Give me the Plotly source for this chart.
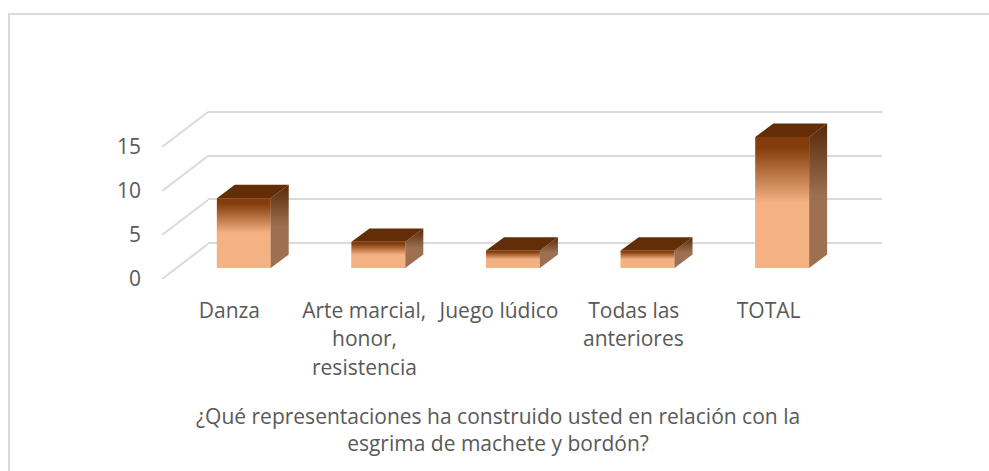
import plotly.graph_objects as go

W, H = 989, 471

# ---- data ----
CATEGORIES = ["Danza", "Arte marcial,", "Juego lúdico", "Todas las", "TOTAL"]
EXTRA_LINE_2 = [None, "honor,", None, "anteriores", None]
EXTRA_LINE_3 = [None, "resistencia", None, None, None]
VALUES = [8, 3, 2, 2, 15]
Y_TICKS = [0, 5, 10, 15]
AXIS_TITLE = "¿Qué representaciones ha construido usted en relación con la<br>esgrima de machete y bordón?"

# ---- style ----
FONT = "Open Sans"
FS = 21
TXT = "#595959"
GRID = "#DADADA"
FRONT_LIGHT, FRONT_DARK = "#F4B183", "#843C0C"
SIDE_LIGHT, SIDE_DARK = "#9C7051", "#572807"
TOP = "#622D07"

def dom_x(a, b):
    return [a / W, b / W]

def dom_y(top, bottom):
    return [1 - bottom / H, 1 - top / H]

idx = list(range(len(VALUES)))
BAR_W = 0.4
DEPTH_X = 18 / 134.6      # category units
DEPTH_Y = 13.4 / 8.73     # value units
FLOOR_X = 46 / 134.8
FLOOR_Y = 35 / 8.8
YTOP = 20                 # axes run past the last tick so nothing is clipped
PX_FRONT, PX_WALL, PX_BAR = 8.8, 8.733, 8.733

fig = go.Figure()

# left-hand floor/wall diagonals on the front axis
for v in Y_TICKS:
    fig.add_trace(go.Scatter(
        x=[-0.5, -0.5 + FLOOR_X], y=[v, v + FLOOR_Y], xaxis="x", yaxis="y",
        mode="lines", line=dict(color=GRID, width=2), cliponaxis=False,
        hoverinfo="skip", showlegend=False))

# wall carrier for the gridlines
fig.add_trace(go.Scatter(x=idx, y=VALUES, xaxis="x2", yaxis="y2", mode="none",
                         hoverinfo="skip", showlegend=False))

# front faces: real bars
fig.add_trace(go.Bar(x=idx, y=VALUES, xaxis="x3", yaxis="y3", width=BAR_W,
                     marker=dict(color=FRONT_LIGHT, line=dict(width=0)),
                     showlegend=False, name="", hovertemplate="%{y}"))

def poly(xs, ys, **kw):
    fig.add_trace(go.Scatter(x=xs, y=ys, xaxis="x3", yaxis="y3", mode="lines",
                             line=dict(width=0), fill="toself", cliponaxis=False,
                             hoverinfo="skip", showlegend=False, **kw))

for i, v in zip(idx, VALUES):
    l, r = i - BAR_W / 2, i + BAR_W / 2
    # gradient on the front face
    poly([l, r, r, l, l], [0, 0, v, v, 0],
         fillgradient=dict(type="vertical", start=0, stop=v,
                           colorscale=[[0, FRONT_LIGHT], [0.5, FRONT_LIGHT],
                                       [0.92, FRONT_DARK], [1, FRONT_DARK]]))
    # side face
    poly([r, r + DEPTH_X, r + DEPTH_X, r, r], [0, DEPTH_Y, v + DEPTH_Y, v, 0],
         fillgradient=dict(type="vertical", start=0, stop=v + DEPTH_Y,
                           colorscale=[[0, SIDE_LIGHT], [0.5, SIDE_LIGHT], [1, SIDE_DARK]]))
    # top face
    poly([l, r, r + DEPTH_X, l + DEPTH_X, l], [v, v, v + DEPTH_Y, v + DEPTH_Y, v],
         fillcolor=TOP)

font = dict(family=FONT, size=FS, color=TXT)
annots = []
for rows, py in ((EXTRA_LINE_2, 338), (EXTRA_LINE_3, 367)):
    for i, t in enumerate(rows):
        if t:
            annots.append(dict(text=t, x=i, xref="x", y=1 - py / H, yref="paper",
                               showarrow=False, xanchor="center", yanchor="middle",
                               font=font))
annots.append(dict(text=AXIS_TITLE, x=498 / W, xref="paper", y=1 - 429 / H, yref="paper",
                   showarrow=False, xanchor="center", yanchor="middle", align="center",
                   font=font))

fig.update_layout(
    width=W, height=H, autosize=False,
    margin=dict(l=0, r=0, t=0, b=0, autoexpand=False),
    paper_bgcolor="white", plot_bgcolor="rgba(0,0,0,0)",
    font=font,
    showlegend=False, barmode="overlay",
    annotations=annots,
    shapes=[dict(type="path", xref="paper", yref="paper",
                 path=f"M {9/W} 0 L {9/W} {1-14/H} L 1 {1-14/H}",
                 line=dict(color=GRID, width=2))],
    xaxis=dict(domain=dom_x(162, 836), range=[-0.5, 4.5], anchor="y",
               tickmode="array", tickvals=idx, ticktext=CATEGORIES,
               ticks="", showgrid=False, zeroline=False, showline=False,
               tickangle=0, ticklabelstandoff=17, tickfont=font),
    yaxis=dict(domain=dom_y(279 - YTOP * PX_FRONT, 279), range=[0, YTOP], anchor="x",
               tickmode="array", tickvals=Y_TICKS, ticks="", showgrid=False,
               zeroline=False, showline=False, ticklabelstandoff=20, tickfont=font),
    xaxis2=dict(domain=dom_x(208, 882), range=[-0.5, 4.5], anchor="y2",
                visible=False, showgrid=False, zeroline=False),
    yaxis2=dict(domain=dom_y(243 - (YTOP) * PX_WALL, 243 + PX_WALL), range=[-1, YTOP], anchor="x2",
                tickmode="array", tickvals=Y_TICKS, showticklabels=False, ticks="",
                showgrid=True, gridcolor=GRID, gridwidth=2, zeroline=False, showline=False),
    xaxis3=dict(domain=dom_x(176.5, 849.5), range=[-0.5, 4.5], anchor="y3",
                visible=False, showgrid=False, zeroline=False),
    yaxis3=dict(domain=dom_y(268 - YTOP * PX_BAR, 268), range=[0, YTOP], anchor="x3",
                visible=False, showgrid=False, zeroline=False),
)

fig.write_html("out.html", post_script="document.body.style.margin='0';",
               config=dict(displayModeBar=False))
